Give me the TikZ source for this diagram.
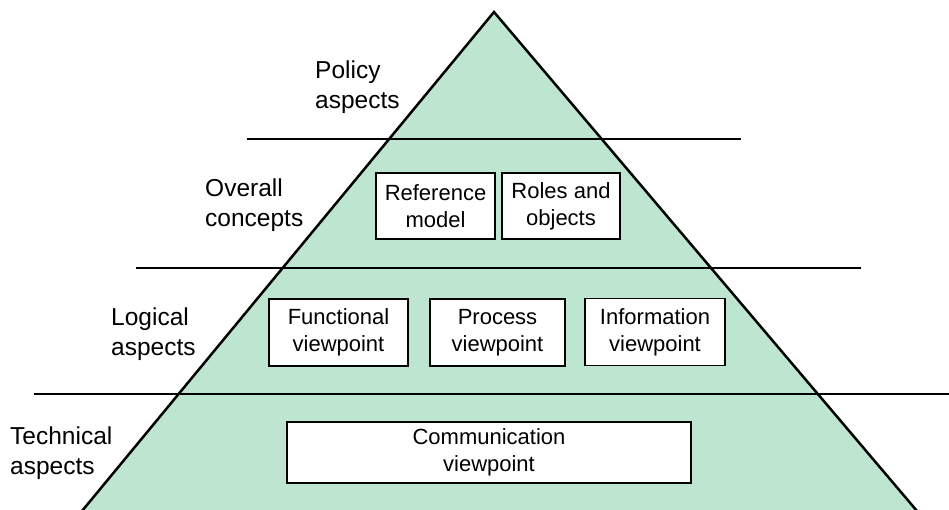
\documentclass[tikz,border=0pt]{standalone}
\usepackage{fontspec}
\setmainfont{Liberation Sans}
\definecolor{mint}{RGB}{190,229,208}
\begin{document}
\begin{tikzpicture}[x=1pt,y=-1pt,
  txt/.style={font=\fontsize{24.5}{30}\selectfont, inner sep=0pt, align=left, anchor=base west},
  vbox/.style={draw=black, line width=1.5pt, fill=white, align=center,
    font=\fontsize{22}{27}\selectfont, inner sep=0pt},
  heavy/.style={line width=2.5pt, black}]
\useasboundingbox (0,0) rectangle (949,509);
% pyramid
\coordinate (apex) at (494,12);
\coordinate (bl) at (82,511);
\coordinate (br) at (917,511);
\fill[mint] (apex) -- (bl) -- (br) -- cycle;
\draw[heavy, line join=miter] (bl) -- (apex) -- (br);
% separator lines
\coordinate (l1a) at (247,139); \coordinate (l1b) at (741,139);
\coordinate (l2a) at (136,268); \coordinate (l2b) at (861,268);
\coordinate (l3a) at (34,394);  \coordinate (l3b) at (949,394);
\draw[heavy] (l1a) -- (l1b);
\draw[heavy] (l2a) -- (l2b);
\draw[heavy] (l3a) -- (l3b);
% side labels (anchor = baseline of last line)
\node[txt] (policy) at (315,108) {Policy\\aspects};
\node[txt] (overall) at (205,226) {Overall\\concepts};
\node[txt] (logical) at (111,355) {Logical\\aspects};
\node[txt] (technical) at (10,474) {Technical\\aspects};
% boxes
\node[vbox, minimum width=119pt, minimum height=66pt] (ref) at (435.5,206) {Reference\\model};
\node[vbox, minimum width=118pt, minimum height=66pt] (roles) at (561,206) {Roles and\\objects};
\node[vbox, minimum width=139pt, minimum height=67pt] (func) at (338.5,332.5) {Functional\\viewpoint};
\node[vbox, minimum width=135pt, minimum height=67pt] (proc) at (497.5,332.5) {Process\\viewpoint};
\node[vbox, minimum width=140pt, minimum height=67pt] (info) at (655,332) {Information\\viewpoint};
\node[vbox, minimum width=404pt, minimum height=61pt] (comm) at (489,452.5) {Communication\\viewpoint};
\end{tikzpicture}
\end{document}
